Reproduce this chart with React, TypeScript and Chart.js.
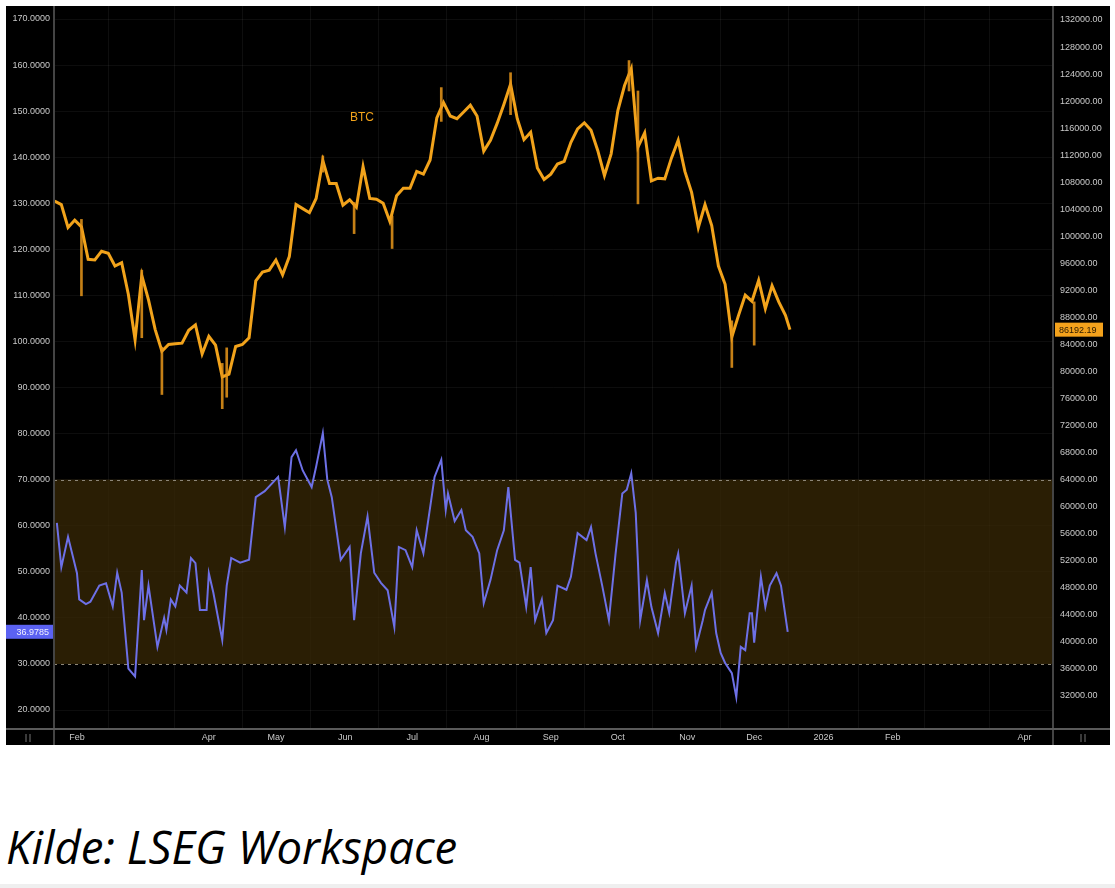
import React, { useEffect, useRef } from "react";
import { Chart, registerables } from "chart.js";

Chart.register(...registerables);

// ---------- data ----------
const btcDates = [
  "01-22", "01-25", "01-28", "01-31",
  "02-03", "02-06", "02-09", "02-12", "02-15", "02-18", "02-21", "02-24", "02-27",
  "03-02", "03-05", "03-08", "03-11", "03-14", "03-17", "03-20", "03-23", "03-26", "03-29",
  "04-01", "04-04", "04-07", "04-10", "04-13", "04-16", "04-19", "04-22", "04-25", "04-28",
  "05-01", "05-04", "05-07", "05-10", "05-13", "05-16", "05-19", "05-22", "05-25", "05-28", "05-31",
  "06-03", "06-06", "06-09", "06-12", "06-15", "06-18", "06-21", "06-24", "06-27", "06-30",
  "07-03", "07-06", "07-09", "07-12", "07-15", "07-18", "07-21", "07-24", "07-27", "07-30",
  "08-02", "08-05", "08-08", "08-11", "08-14", "08-17", "08-20", "08-23", "08-26", "08-29",
  "09-01", "09-04", "09-07", "09-10", "09-13", "09-16", "09-19", "09-22", "09-25", "09-28",
  "10-01", "10-04", "10-07", "10-10", "10-13", "10-16", "10-19", "10-22", "10-25", "10-28", "10-31",
  "11-03", "11-06", "11-09", "11-12", "11-15", "11-18", "11-21", "11-24", "11-27", "11-30",
  "12-03", "12-06", "12-09", "12-12", "12-15", "12-17",
];

const btcClose = [
  105200, 104700, 101300, 102400,
  101400, 96600, 96500, 97800, 97500, 95600, 96100, 91400, 84700,
  94200, 90600, 86200, 83000, 84000, 84100, 84200, 86100, 86900, 82600,
  85200, 83900, 79200, 79600, 83700, 84000, 85000, 93400, 94700, 95000,
  96500, 94300, 97000, 104700, 104100, 103500, 105600, 111200, 107800, 107800, 104600,
  105400, 104300, 110300, 105600, 105500, 104900, 102200, 106000, 107100, 107100,
  109600, 109200, 111300, 117500, 119800, 117800, 117400, 118400, 119400, 117800,
  112600, 114200, 116700, 119500, 122500, 117400, 114300, 115400, 110100, 108400,
  109200, 110700, 111100, 113900, 115900, 116800, 115700, 112700, 109000, 112200,
  118600, 122300, 124800, 113200, 115300, 108200, 108600, 108500, 111600, 114200, 109600,
  106500, 101300, 104700, 101600, 95600, 92900, 85100, 88300, 91300, 90400,
  93500, 89300, 92700, 90300, 88300, 86192.19,
];

// notable candle wicks (low / high)
const wickDates = ["02-03", "03-02", "03-11", "04-07", "04-09", "05-22", "06-05", "06-22", "07-14", "08-14", "10-06", "10-10", "11-21", "12-01"];
const wickLow = [91200, 85000, 76600, 74500, 76200, 109500, 100400, 98200, 117000, 118000, 121500, 104800, 80600, 83900];
const wickHigh = [102500, 95000, 83600, 81200, 83500, 111900, 105000, 103000, 122000, 124200, 126000, 121500, 87500, 90300];

const rsiDates = [
  "01-23", "01-25", "01-28", "02-01", "02-02", "02-05", "02-07", "02-11", "02-14", "02-17", "02-19", "02-21", "02-24", "02-27",
  "03-02", "03-03", "03-05", "03-09", "03-12", "03-13", "03-15", "03-17", "03-19", "03-22", "03-24", "03-26", "03-28", "03-31",
  "04-01", "04-03", "04-07", "04-09", "04-11", "04-15", "04-19", "04-22", "04-26",
  "05-02", "05-05", "05-08", "05-10", "05-13", "05-17", "05-19", "05-22", "05-24", "05-26", "05-30",
  "06-03", "06-05", "06-08", "06-11", "06-14", "06-17", "06-20", "06-23", "06-25", "06-28",
  "07-01", "07-03", "07-06", "07-11", "07-14", "07-16", "07-17", "07-20", "07-23", "07-25", "07-28", "07-31",
  "08-02", "08-05", "08-08", "08-11", "08-13", "08-16", "08-18", "08-21", "08-23", "08-25", "08-28", "08-30",
  "09-02", "09-04", "09-08", "09-10", "09-13", "09-17", "09-19", "09-21", "09-24", "09-27", "09-30",
  "10-03", "10-05", "10-07", "10-09", "10-10", "10-11", "10-14", "10-16", "10-19", "10-22", "10-24", "10-27", "10-28", "10-31",
  "11-03", "11-05", "11-08", "11-09", "11-12", "11-14", "11-16", "11-18", "11-21", "11-23", "11-25", "11-27", "11-29", "11-30",
  "12-01", "12-04", "12-06", "12-08", "12-11", "12-13", "12-16",
];

const rsiValues = [
  60.6, 51, 57.6, 49.7, 44, 43, 43.5, 47, 47.5, 42.5, 49.8, 45.5, 29, 27.3,
  50.4, 39.5, 47, 33.7, 40, 37.4, 44, 42.5, 47, 45.5, 53, 51.9, 41.7, 41.7,
  49.7, 45.5, 35.2, 47, 53, 52, 52.6, 66.2, 67.5,
  70.6, 59.7, 74.9, 76.4, 72, 68.4, 72.8, 80.1, 70, 66.2, 52.6,
  55.4, 39.5, 54, 62, 49.8, 47.6, 46, 38, 55.4, 54.7,
  51, 59, 54, 70.6, 74.3, 63.4, 67, 61, 63.4, 59, 57.6, 54,
  43.2, 48.2, 54.7, 59, 68.4, 52.6, 52, 42.4, 51, 39.5, 44, 36.7,
  39.5, 47, 46.1, 48.9, 58.4, 56.9, 59.7, 54, 47, 39.5, 54,
  67, 67.8, 71.4, 62.8, 52, 39.5, 48.2, 42.4, 36.7, 45.4, 41.1, 52, 54, 41,
  47, 33.7, 39.5, 41.7, 45.4, 36.7, 32.4, 30.2, 28, 22.8, 33.7, 33, 41, 41,
  34.6, 48.9, 42.4, 47, 49.7, 47, 36.98,
];

const leftTicks = [170, 160, 150, 140, 130, 120, 110, 100, 90, 80, 70, 60, 50, 40, 30, 20];
const rightTicks = [
  132000, 128000, 124000, 120000, 116000, 112000, 108000, 104000, 100000, 96000, 92000, 88000, 84000,
  80000, 76000, 72000, 68000, 64000, 60000, 56000, 52000, 48000, 44000, 40000, 36000, 32000,
];
const monthTickDates = [
  "2025-02-01", "2025-03-01", "2025-04-01", "2025-05-01", "2025-06-01", "2025-07-01", "2025-08-01",
  "2025-09-01", "2025-10-01", "2025-11-01", "2025-12-01", "2026-01-01", "2026-02-01", "2026-03-01", "2026-04-01",
];
const monthTickLabels = ["Feb", "", "Apr", "May", "Jun", "Jul", "Aug", "Sep", "Oct", "Nov", "Dec", "2026", "Feb", "", "Apr"];

const rsiUpper = 70;
const rsiLower = 30;
const lastPrice = 86192.19;
const lastRsi = 36.9785;
const seriesLabel = "BTC";

// ---------- helpers ----------
const BASE = Date.UTC(2025, 0, 1);
function dayOfFull(s: string) {
  const [y, m, d] = s.split("-").map(Number);
  return (Date.UTC(y, m - 1, d) - BASE) / 86400000;
}
function dayOf(md: string) {
  return dayOfFull("2025-" + md);
}

const monthTickDays = monthTickDates.map(dayOfFull);

const AXIS_FONT = { family: "'Liberation Sans', Arial, sans-serif", size: 9 };
const AXIS_COLOR = "#c9c9c9";

const decorPlugin = {
  id: "decor",
  beforeDatasetsDraw(chart: any) {
    const { ctx, chartArea: a, scales } = chart;
    const y = scales.y;
    const yU = y.getPixelForValue(rsiUpper);
    const yL = y.getPixelForValue(rsiLower);
    ctx.save();
    ctx.fillStyle = "rgba(58,42,6,0.72)";
    ctx.fillRect(a.left, yU, a.right - a.left, yL - yU);
    ctx.setLineDash([3, 4]);
    ctx.strokeStyle = "#8d8678";
    ctx.lineWidth = 1;
    [yU, yL].forEach((py) => {
      ctx.beginPath();
      ctx.moveTo(a.left, Math.round(py) + 0.5);
      ctx.lineTo(a.right, Math.round(py) + 0.5);
      ctx.stroke();
    });
    ctx.restore();
  },
  afterDraw(chart: any) {
    const { ctx, chartArea: a, scales, width, height } = chart;
    ctx.save();
    // axis frame lines
    ctx.strokeStyle = "#444";
    ctx.lineWidth = 2;
    ctx.beginPath();
    ctx.moveTo(a.left, 0);
    ctx.lineTo(a.left, height);
    ctx.moveTo(a.right, 0);
    ctx.lineTo(a.right, height);
    ctx.stroke();
    ctx.strokeStyle = "#5a5a5a";
    ctx.beginPath();
    ctx.moveTo(0, a.bottom);
    ctx.lineTo(width, a.bottom);
    ctx.stroke();

    // corner icons
    ctx.fillStyle = "#3a3a3a";
    ctx.fillRect(19, a.bottom + 5, 2, 8);
    ctx.fillRect(23, a.bottom + 5, 2, 8);
    ctx.fillRect(1074, a.bottom + 5, 2, 8);
    ctx.fillRect(1078, a.bottom + 5, 2, 8);

    // last price box (right)
    const py = scales.y1.getPixelForValue(lastPrice);
    ctx.fillStyle = "#f4a21c";
    ctx.fillRect(a.right + 2, py - 7, 48, 14);
    ctx.fillStyle = "#2a1a00";
    ctx.font = "9px 'Liberation Sans', Arial, sans-serif";
    ctx.textAlign = "left";
    ctx.textBaseline = "middle";
    ctx.fillText(lastPrice.toFixed(2), a.right + 6, py + 0.5);

    // last RSI box (left)
    const ry = scales.y.getPixelForValue(lastRsi);
    ctx.fillStyle = "#5b62f2";
    ctx.fillRect(0, ry - 7, a.left - 1, 14);
    ctx.fillStyle = "#f0f0ff";
    ctx.textAlign = "right";
    ctx.fillText(lastRsi.toFixed(4), a.left - 5, ry + 0.5);

    // series label
    ctx.fillStyle = "#f2a31b";
    ctx.font = "12px 'Liberation Sans', Arial, sans-serif";
    ctx.textAlign = "center";
    ctx.fillText(seriesLabel, 356, 112);
    ctx.restore();
  },
};

export default function App() {
  const canvasRef = useRef<HTMLCanvasElement | null>(null);

  useEffect(() => {
    document.body.style.margin = "0";
    const canvas = canvasRef.current;
    if (!canvas) return;

    const btcData = btcDates.map((d, i) => ({ x: dayOf(d), y: btcClose[i] }));
    const wickData = wickDates.map((d, i) => ({ x: dayOf(d), y: [wickLow[i], wickHigh[i]] }));
    const rsiData = rsiDates.map((d, i) => ({ x: dayOf(d), y: rsiValues[i] }));

    const chart = new Chart(canvas, {
      type: "line",
      data: {
        datasets: [
          {
            type: "line",
            label: "RSI",
            data: rsiData as any,
            yAxisID: "y",
            borderColor: "#6d70e6",
            borderWidth: 2,
            pointRadius: 0,
            tension: 0,
          },
          {
            type: "bar",
            label: "BTC wicks",
            data: wickData as any,
            yAxisID: "y1",
            backgroundColor: "rgba(232,150,26,0.85)",
            barThickness: 2,
          } as any,
          {
            type: "line",
            label: "BTC",
            data: btcData as any,
            yAxisID: "y1",
            borderColor: "#f2a31b",
            borderWidth: 3,
            pointRadius: 0,
            tension: 0,
          },
        ],
      },
      options: {
        responsive: false,
        animation: false,
        devicePixelRatio: 1,
        layout: { padding: 0 },
        plugins: {
          legend: { display: false },
          tooltip: { enabled: false },
        },
        scales: {
          x: {
            type: "linear",
            min: 20.72,
            max: 467.7,
            offset: false,
            afterBuildTicks: (s: any) => {
              s.ticks = monthTickDays.map((v) => ({ value: v }));
            },
            afterFit: (s: any) => {
              s.height = 16;
              s.paddingLeft = 0;
              s.paddingRight = 0;
            },
            ticks: {
              autoSkip: false,
              maxRotation: 0,
              padding: 3,
              color: AXIS_COLOR,
              font: AXIS_FONT,
              callback: (v: any) => {
                const i = monthTickDays.indexOf(Number(v));
                return i >= 0 ? monthTickLabels[i] : "";
              },
            },
            grid: { color: "rgba(255,255,255,0.055)", drawTicks: false },
            border: { display: false },
          },
          y: {
            type: "linear",
            position: "left",
            min: 15.876,
            max: 172.822,
            afterBuildTicks: (s: any) => {
              s.ticks = leftTicks.map((v) => ({ value: v }));
            },
            afterFit: (s: any) => {
              s.width = 48;
              s.paddingTop = 0;
              s.paddingBottom = 0;
            },
            ticks: {
              padding: 4,
              color: AXIS_COLOR,
              font: AXIS_FONT,
              callback: (v: any) => Number(v).toFixed(4),
            },
            grid: { color: "rgba(255,255,255,0.05)", drawTicks: false },
            border: { display: false },
          },
          y1: {
            type: "linear",
            position: "right",
            min: 27118,
            max: 134071,
            afterBuildTicks: (s: any) => {
              s.ticks = rightTicks.map((v) => ({ value: v }));
            },
            afterFit: (s: any) => {
              s.width = 57;
              s.paddingTop = 0;
              s.paddingBottom = 0;
            },
            ticks: {
              padding: 7,
              color: AXIS_COLOR,
              font: AXIS_FONT,
              callback: (v: any) => Number(v).toFixed(2),
            },
            grid: { display: false, drawTicks: false },
            border: { display: false },
          },
        },
      },
      plugins: [decorPlugin],
    });

    return () => chart.destroy();
  }, []);

  return (
    <div style={{ position: "fixed", left: 0, top: 0, width: 1115, height: 888, background: "#fff", overflow: "hidden" }}>
      <div style={{ position: "absolute", left: 6, top: 6, width: 1104, height: 739, background: "#000" }}>
        <canvas ref={canvasRef} width={1104} height={739} style={{ display: "block", width: 1104, height: 739 }} />
      </div>
      <div
        style={{
          position: "absolute",
          left: 6,
          top: 816,
          fontFamily: "'Open Sans', 'Noto Sans', sans-serif",
          fontStyle: "italic",
          fontSize: 45.5,
          lineHeight: "60px",
          color: "#000",
          whiteSpace: "nowrap",
        }}
      >
        Kilde: LSEG Workspace
      </div>
      <div style={{ position: "absolute", left: 0, top: 884, width: 1115, height: 4, background: "#efefef" }} />
    </div>
  );
}
